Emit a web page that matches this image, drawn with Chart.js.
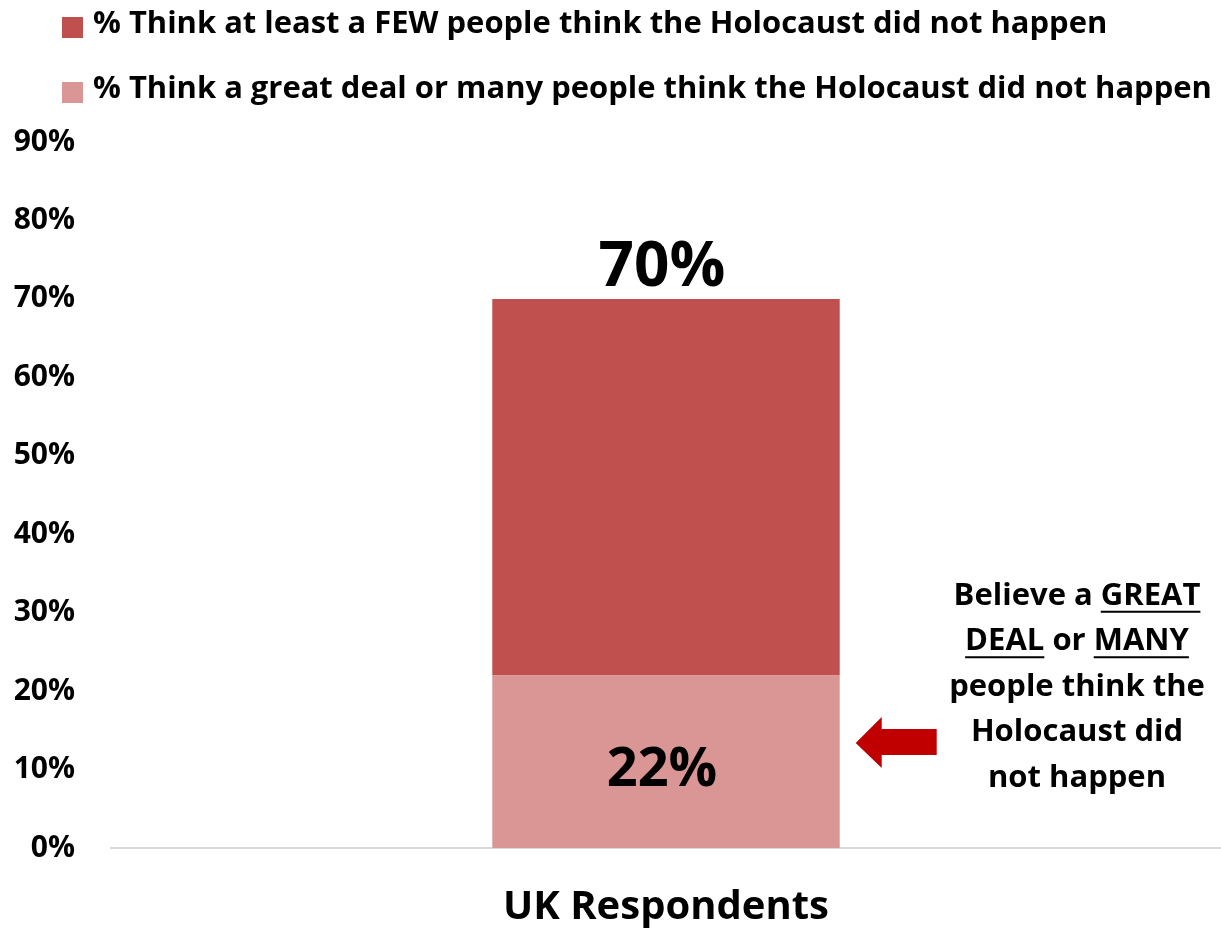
<!DOCTYPE html>
<html>
<head>
<meta charset="utf-8">
<script src="https://cdn.jsdelivr.net/npm/chart.js@4"></script>
<style>
  html, body { margin: 0; padding: 0; background: #fff; }
  #wrap { position: relative; width: 1221px; height: 930px; }
</style>
</head>
<body>
<div id="wrap"><canvas id="chart"></canvas></div>
<script>
// ---- data ----
var categories     = ['UK Respondents'];
var greatDealLabel = '% Think a great deal or many people think the Holocaust did not happen';
var atLeastFewLabel = '% Think at least a FEW people think the Holocaust did not happen';
var greatDealPct   = [22];
var atLeastFewPct  = [70];
var yTickValues    = [0, 10, 20, 30, 40, 50, 60, 70, 80, 90];

// the dark segment sits on top of the light one, so it is the remainder
var fewRemainder = atLeastFewPct.map(function (v, i) { return v - greatDealPct[i]; });

var darkRed  = '#C0504D';
var lightRed = '#D99694';
var arrowRed = '#C00000';
var FONT     = '"Open Sans", "DejaVu Sans", sans-serif';

// Legend drawn at top-left, dark series first
var legendPlugin = {
    id: 'topLegend',
    afterDraw: function (chart) {
        var ctx = chart.ctx;
        var items = chart.data.datasets.slice().reverse();
        ctx.save();
        ctx.font = 'bold 28px ' + FONT;
        var w = ctx.measureText(items[1].label).width;
        var size = 28 * 1119 / w;
        ctx.font = 'bold ' + size.toFixed(2) + 'px ' + FONT;
        ctx.textBaseline = 'alphabetic';
        ctx.textAlign = 'left';
        items.forEach(function (ds, i) {
            var base = 33 + i * 65;
            ctx.fillStyle = ds.backgroundColor;
            ctx.fillRect(62, base - 16, 21, 21);
            ctx.fillStyle = '#000';
            ctx.fillText(ds.label, 93, base);
        });
        ctx.restore();
    }
};

// Value labels + the side note with its arrow
var labelPlugin = {
    id: 'valueLabels',
    afterDatasetsDraw: function (chart) {
        var ctx = chart.ctx;
        var low = chart.getDatasetMeta(0).data;
        var top = chart.getDatasetMeta(1).data;
        ctx.save();
        ctx.fillStyle = '#000';
        ctx.textAlign = 'center';

        top.forEach(function (bar, i) {
            ctx.font = 'bold 62px ' + FONT;
            ctx.textBaseline = 'alphabetic';
            ctx.fillText(atLeastFewPct[i] + '%', bar.x - 4, bar.y - 13);
        });
        low.forEach(function (bar, i) {
            ctx.font = 'bold 54px ' + FONT;
            ctx.textBaseline = 'alphabetic';
            ctx.fillText(greatDealPct[i] + '%', bar.x - 4, (bar.y + bar.base) / 2 + 24);
        });

        // arrow pointing at the light segment
        var bar = low[0];
        var yS = chart.scales.y;
        var tipX = bar.x + bar.width / 2 + 16;
        var ay = yS.getPixelForValue(13.4);
        ctx.fillStyle = arrowRed;
        ctx.beginPath();
        ctx.moveTo(tipX, ay);
        ctx.lineTo(tipX + 26, ay - 26);
        ctx.lineTo(tipX + 26, ay - 14);
        ctx.lineTo(tipX + 81, ay - 14);
        ctx.lineTo(tipX + 81, ay + 12);
        ctx.lineTo(tipX + 26, ay + 12);
        ctx.lineTo(tipX + 26, ay + 25);
        ctx.closePath();
        ctx.fill();

        // note text with underlined words
        var lines = [
            [['Believe a ', false], ['GREAT', true]],
            [['DEAL', true], [' or ', false], ['MANY', true]],
            [['people think the', false]],
            [['Holocaust did', false]],
            [['not happen', false]]
        ];
        var cx = chart.chartArea.right - 144;
        ctx.font = 'bold 31px ' + FONT;
        ctx.textAlign = 'left';
        ctx.fillStyle = '#000';
        ctx.strokeStyle = '#000';
        ctx.lineWidth = 2;
        lines.forEach(function (parts, li) {
            var base = yS.getPixelForValue(31) + li * 45.5;
            var total = 0;
            parts.forEach(function (p) { total += ctx.measureText(p[0]).width; });
            var x = cx - total / 2;
            parts.forEach(function (p) {
                var pw = ctx.measureText(p[0]).width;
                ctx.fillText(p[0], x, base);
                if (p[1]) {
                    ctx.beginPath();
                    ctx.moveTo(x, base + 7);
                    ctx.lineTo(x + pw, base + 7);
                    ctx.stroke();
                }
                x += pw;
            });
        });
        ctx.restore();
    }
};

new Chart(document.getElementById('chart'), {
    type: 'bar',
    data: {
        labels: categories,
        datasets: [{
            label: greatDealLabel,
            data: greatDealPct,
            backgroundColor: lightRed,
            barPercentage: 0.313,
            categoryPercentage: 1
        }, {
            label: atLeastFewLabel,
            data: fewRemainder,
            backgroundColor: darkRed,
            barPercentage: 0.313,
            categoryPercentage: 1
        }]
    },
    options: {
        responsive: true,
        maintainAspectRatio: false,
        animation: false,
        layout: { padding: { top: 142, right: 0, bottom: 0, left: 0 } },
        plugins: {
            legend: { display: false },
            tooltip: { enabled: false }
        },
        scales: {
            x: {
                stacked: true,
                afterFit: function (scale) { scale.height = 82; },
                grid: { display: false, drawTicks: false },
                border: { color: '#D9D9D9', width: 2 },
                ticks: {
                    color: '#000',
                    padding: 36,
                    font: { family: FONT, size: 40, weight: 'bold' }
                }
            },
            y: {
                stacked: true,
                min: 0,
                max: 90,
                afterBuildTicks: function (scale) {
                    scale.ticks = yTickValues.map(function (v) { return { value: v }; });
                },
                afterFit: function (scale) { scale.width = 111; },
                grid: { display: false, drawTicks: false },
                border: { display: false },
                ticks: {
                    color: '#000',
                    padding: 36,
                    font: { family: FONT, size: 30, weight: 'bold' },
                    callback: function (v) { return v + '%'; }
                }
            }
        }
    },
    plugins: [legendPlugin, labelPlugin]
});
</script>
</body>
</html>
